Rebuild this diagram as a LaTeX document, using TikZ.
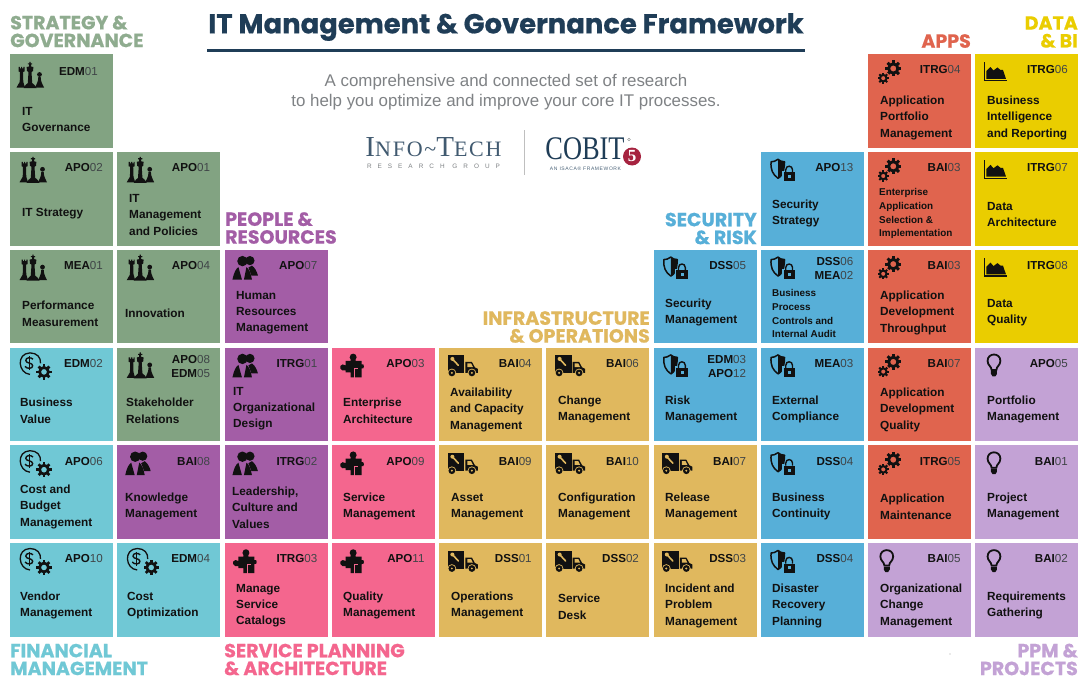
\documentclass[tikz,border=0pt]{standalone}
\usepackage{fontspec}
\setmainfont{Liberation Sans}
\newfontfamily\codef{Liberation Sans}
\newfontfamily\catf{Poppins}[BoldFeatures={FakeBold=0.6}]
\newfontfamily\serf{Liberation Serif}
\newfontfamily\serfs{Liberation Serif}[LetterSpace=8]
\newfontfamily\ressp{Liberation Sans}[LetterSpace=94]
\newfontfamily\isacf{Liberation Sans}[LetterSpace=12]
\definecolor{cgreen}{HTML}{82A382}
\definecolor{cteal}{HTML}{70C8D5}
\definecolor{cpurple}{HTML}{A35DA6}
\definecolor{cpink}{HTML}{F4668E}
\definecolor{cgold}{HTML}{E0B85E}
\definecolor{cblue}{HTML}{57AFD8}
\definecolor{cred}{HTML}{E0644E}
\definecolor{cyellow}{HTML}{EACD00}
\definecolor{clilac}{HTML}{C3A2D5}
\definecolor{navy}{HTML}{1F3D57}
\definecolor{numgray}{HTML}{3F4447}
\definecolor{subgray}{HTML}{7F8285}
\definecolor{ink}{HTML}{111111}
\definecolor{cobitred}{HTML}{A6233F}
\colorlet{tilec}{cgreen}
\newcommand{\cd}[2]{{\bfseries #1}{\color{numgray}#2}}
\newcommand{\geargl}[3]{%
  \begin{scope}[shift={(#1,#2)}]
    \fill[tilec] (0,0) circle ({#3+1.2});
    \draw[ink,line width={0.36*#3}] (0,0) circle ({0.58*#3});
    \foreach \a in {0,45,...,315}{\draw[ink,line width={0.36*#3}] (\a:{0.65*#3}) -- (\a:{#3});}
  \end{scope}}
\def\offchess{23}\def\offpeople{20.5}\def\offpuzzle{20}\def\offtruck{24}
\def\offshield{22}\def\offgears{20.5}\def\offdollar{25}\def\offchart{20.5}\def\offbulb{19}
\tikzset{
  x=1pt,y=-1pt,
  tilebox/.style={draw=none,inner sep=0pt,anchor=north west,minimum width=103pt,minimum height=93.5pt},
  tilelabel/.style={anchor=west,align=left,inner sep=0pt,yshift=-0.7pt,text=ink,font=\codef\bfseries\fontsize{11.8}{16.4}\selectfont},
  smallabel/.style={font=\codef\bfseries\fontsize{9.9}{13.7}\selectfont},
  tilecode/.style={anchor=east,align=right,inner sep=0pt,text=ink,font=\codef\fontsize{11.6}{14.4}\selectfont},
  cattitle/.style={inner sep=0pt,font=\catf\bfseries\fontsize{19}{17.8}\selectfont},
  iconchess/.pic={
    \fill[ink] (-6.5,13) .. controls (-6,10) and (-3,10) .. (-2.2,8) -- (-1.5,-3) -- (-3,-4) -- (-3.4,-8) -- (-1,-8.5) -- (-1,-10.5) -- (-2.2,-10.5) -- (-2.2,-11.6) -- (-0.7,-11.6) -- (-0.7,-13) -- (0.7,-13) -- (0.7,-11.6) -- (2.2,-11.6) -- (2.2,-10.5) -- (1,-10.5) -- (1,-8.5) -- (3.4,-8) -- (3,-4) -- (1.5,-3) -- (2.2,8) .. controls (3,10) and (6.5,10) .. (6.5,13) -- cycle;
    \fill[ink] (-13.5,12.5) .. controls (-13,10) and (-10.5,9) .. (-10.3,7) -- (-10,-3) -- (-11.5,-3.5) -- (-11.5,-8) -- (-10.2,-8) -- (-10.2,-6.5) -- (-9,-6.5) -- (-9,-8) -- (-7.8,-8) -- (-7.8,-6.5) -- (-6.6,-6.5) -- (-6.6,-8) -- (-5.5,-8) -- (-5.5,-3.5) -- (-7,-3) -- (-6.7,7) .. controls (-6.5,9) and (-5,10) .. (-5,12.5) -- cycle;
    \fill[ink] (9.5,-0.5) circle (2.4);
    \fill[ink] (5,12.5) .. controls (5.5,10) and (8,9) .. (8.3,2) -- (10.7,2) .. controls (11,9) and (13.5,10) .. (14,12.5) -- cycle;
  },
  iconpeople/.pic={
    \fill[ink] (5,-7) circle (4.6);
    \fill[ink] (-2.5,-6.5) circle (5.2);
    \fill[ink] (7,-2) .. controls (10,0) and (12,4) .. (13,8) -- (6.5,8) -- (3.5,0) -- cycle;
    \fill[ink] (-12.5,12) .. controls (-11,5) and (-9,1) .. (-6.5,-0.5) -- (-3,12) -- cycle;
    \fill[ink] (-1,12) -- (1.5,-0.5) .. controls (4,1) and (6,6) .. (7,12) -- cycle;
  },
  iconpuzzle/.pic={
    \fill[ink] (-6,-4.5) -- (-1,-4.5) -- (-1,-6) -- (-2,-8) .. controls (-2,-13) and (5,-13) .. (5,-8) -- (4,-6) -- (4,-4.5) -- (10,-4.5) -- (10,-1) .. controls (13,-3) and (13,5) .. (10,3) -- (10,12) -- (-1,12) -- (-1,7) -- (-6,7) -- (-6,5) .. controls (-11,7) and (-14,0) .. (-9,-1) -- (-6,0) -- cycle;
    \draw[tilec,line width=1.1] (3,12.5) -- (3,3.5) -- (6.5,3.5);
  },
  icontruck/.pic={
    \fill[ink] (-15,-10.5) rectangle (1.5,7.5);
    \draw[tilec,line width=1.6,line cap=round] (-10.5,-6.5) -- (-4.5,0);
    \fill[tilec] (-10.5,-6.5) circle (2);
    \fill[ink] (2.5,-3.5) -- (9,-3.5) -- (12,2) -- (15,3.5) -- (15,7.5) -- (2.5,7.5) -- cycle;
    \fill[tilec] (4.5,-2) -- (8.2,-2) -- (10,1.6) -- (4.5,1.6) -- cycle;
    \foreach \wx in {-11,9}{
      \fill[tilec] (\wx,7.5) circle (4.3);
      \fill[ink] (\wx,7.5) circle (3.4);
      \fill[tilec] (\wx,7.5) circle (1.1);}
  },
  iconshield/.pic={
    \draw[ink,line width=1.5,line join=round] (-4.5,-10.5) .. controls (-7,-8.5) and (-9.5,-8) .. (-11.5,-8) .. controls (-12,0) and (-10,4.5) .. (-4.5,8.5) .. controls (-1,6.5) and (1.5,3.5) .. (2,-8) .. controls (-1,-8) and (-3,-9) .. (-4.5,-10.5) -- cycle;
    \fill[ink] (-4.5,-10.5) .. controls (-3,-9) and (-1,-8) .. (2,-8) .. controls (1.5,3.5) and (-1,6.5) .. (-4.5,8.5) -- cycle;
    \fill[tilec] (-0.6,1) rectangle (14,13);
    \draw[ink,line width=1.4] (3.2,2.5) -- (3.2,0) .. controls (3.2,-4.8) and (10,-4.8) .. (10,0) -- (10,2.5);
    \fill[ink] (1,2.5) rectangle (12.4,11.5);
    \fill[tilec] (5.2,5.3) rectangle (8.2,8.3);
  },
  icongears/.pic={
    \geargl{5}{-3.5}{8}
    \geargl{-5}{6.2}{5.6}
  },
  icondollar/.pic={
    \draw[ink,line width=1.3] (-5,9) .. controls (-17,8) and (-19,-12) .. (-5,-12.5) .. controls (2,-12.5) and (6,-8) .. (5.5,-2);
    \draw[ink,line width=1.4] (-2,-6.2) .. controls (-4,-8.5) and (-9.5,-8) .. (-9.2,-4.8) .. controls (-9,-1.8) and (-2.5,-3) .. (-2.3,0.3) .. controls (-2.2,3.5) and (-8,3.8) .. (-10,1);
    \draw[ink,line width=1] (-6,-9.2) -- (-6,5);
    \geargl{9}{6.5}{7.6}
  },
  iconchart/.pic={
    \draw[ink,line width=1.3] (-11,-9.5) -- (-11,8.5) -- (11.5,8.5);
    \fill[ink] (-9,6.8) -- (-9,-1) -- (-5,-5) -- (-2,-1.5) -- (2,-4.5) -- (5,-2) -- (7.5,-2) -- (10.5,6.8) -- cycle;
  },
  iconbulb/.pic={
    \draw[ink,line width=1.8] (-2.4,4.5) .. controls (-2.4,1) and (-6.4,0) .. (-6.4,-4.5) .. controls (-6.4,-13) and (6.4,-13) .. (6.4,-4.5) .. controls (6.4,0) and (2.4,1) .. (2.4,4.5) -- cycle;
    \fill[ink] (-3,5.5) -- (3,5.5) -- (3,8.5) -- (1.4,11) -- (-1.4,11) -- (-3,8.5) -- cycle;
  },
}
\def\parseopt#1/#2/#3/#4\relax{\def\oia{#1}\def\oib{#2}\def\oic{#3}\def\oid{#4}}
% [iconDx/iconDy/codeDx/codeDy]{name}{col}{row}{colour}{icon}{codes}{x,y of label}{label}
\newcommand{\tile}[9][0/0/0/0]{%
  \parseopt#1\relax
  \colorlet{tilec}{#5}%
  \pgfmathsetmacro\tx{10+107.22*(#3-1)}%
  \pgfmathsetmacro\ty{54+97.8*(#4-1)}%
  \pgfmathsetmacro\ix{\tx+\csname off#6\endcsname+\oia}%
  \pgfmathsetmacro\iy{\ty+18+\oib}%
  \pgfmathsetmacro\cx{\tx+93+\oic}%
  \pgfmathsetmacro\cy{\ty+16+\oid}%
  \node[tilebox,fill=#5] (#2) at (\tx,\ty) {};
  \pic at (\ix,\iy) {icon#6};
  \node[tilecode] (#2-code) at (\cx,\cy) {#7};
  \node[tilelabel,\lblstyle] (#2-label) at (#8) {#9};
  \def\lblstyle{}%
}
\def\lblstyle{}
\begin{document}
\begin{tikzpicture}
\useasboundingbox (0,0) rectangle (1079,677);
\fill[white] (0,0) rectangle (1079,677);

% title
\node[inner sep=0pt,text=navy,font=\catf\bfseries\fontsize{27.4}{30}\selectfont] (title) at (506,27) {IT Management \& Governance Framework};
\coordinate (ruleL) at (207,51);
\coordinate (ruleR) at (805,51);
\draw[navy,line width=3] (ruleL) -- (ruleR);
\node[align=center,inner sep=0pt,text=subgray,font=\fontsize{16.9}{20}\selectfont] (subtitle) at (506,92.5) {A comprehensive and connected set of research\\to help you optimize and improve your core IT processes.};

% logos
\node[inner sep=0pt,text=navy!85!white,font=\serfs] (infotech) at (433.5,147.5) {\fontsize{29}{25}\selectfont I\fontsize{22}{25}\selectfont NFO\textasciitilde\fontsize{29}{25}\selectfont T\fontsize{22}{25}\selectfont ECH};
\node[inner sep=0pt,text=subgray,font=\ressp\fontsize{6.4}{8}\selectfont] (rgroup) at (433.5,166) {RESEARCH GROUP};
\coordinate (divT) at (524,130);
\coordinate (divB) at (524,175);
\draw[gray!50,line width=0.8] (divT) -- (divB);
\node[inner sep=0pt,xscale=0.8,text=navy,font=\serf\fontsize{33}{33}\selectfont] (cobit) at (585,149) {COBIT};
\draw[subgray,line width=0.4] (629,139.5) circle (1.4);
\node[circle,fill=cobitred,minimum size=18pt,inner sep=0pt,text=white,font=\serf\bfseries\fontsize{17}{17}\selectfont] (five) at (632,156.5) {5};
\node[inner sep=0pt,text=navy!80!white,font=\isacf\fontsize{5}{6}\selectfont] (isaca) at (585.5,169) {AN ISACA® FRAMEWORK};

% categories
\node[cattitle,anchor=west,align=left,text=cgreen!90!white] (catstrategy) at (10,31.5) {STRATEGY \&\\GOVERNANCE};
\node[cattitle,anchor=west,align=left,text=cpurple] (catpeople) at (225,228) {PEOPLE \&\\RESOURCES};
\node[cattitle,anchor=east,align=right,text=cblue] (catsec) at (757,228.5) {SECURITY\\\& RISK};
\node[cattitle,anchor=east,align=right,text=cgold] (catinfra) at (650,327) {INFRASTRUCTURE\\\& OPERATIONS};
\node[cattitle,anchor=east,align=right,text=cred] (catapps) at (971,41) {APPS};
\node[cattitle,anchor=east,align=right,text=cyellow] (catdata) at (1078,32) {DATA\\\& BI};
\node[cattitle,anchor=west,align=left,text=cteal] (catfin) at (10,659.5) {FINANCIAL\\MANAGEMENT};
\node[cattitle,anchor=west,align=left,text=cpink] (catserv) at (224,659.5) {SERVICE PLANNING\\\& ARCHITECTURE};
\node[cattitle,anchor=east,align=right,text=clilac] (catppm) at (1078,659.5) {PPM \&\\PROJECTS};
% small speck below the grid
\coordinate (speck) at (950,654);
\fill[gray!70] (speck) circle (0.6);

% row 1
\tile[-3/3/-5/2]{edm01}{1}{1}{cgreen}{chess}{\cd{EDM}{01}}{22,118.5}{IT\\Governance}
\tile{itrg04}{9}{1}{cred}{gears}{\cd{ITRG}{04}}{880,117}{Application\\Portfolio\\Management}
\tile{itrg06}{10}{1}{cyellow}{chart}{\cd{ITRG}{06}}{987,117}{Business\\Intelligence\\and Reporting}
% row 2
\tile{apo02}{1}{2}{cgreen}{chess}{\cd{APO}{02}}{22,213}{IT Strategy}
\tile{apo01}{2}{2}{cgreen}{chess}{\cd{APO}{01}}{129,214}{IT\\Management\\and Policies}
\tile{apo13}{8}{2}{cblue}{shield}{\cd{APO}{13}}{772,213}{Security\\Strategy}
\def\lblstyle{smallabel}
\tile{bai03a}{9}{2}{cred}{gears}{\cd{BAI}{03}}{879,213}{Enterprise\\Application\\Selection \&\\Implementation}
\tile{itrg07}{10}{2}{cyellow}{chart}{\cd{ITRG}{07}}{987,214}{Data\\Architecture}
% row 3
\tile{mea01}{1}{3}{cgreen}{chess}{\cd{MEA}{01}}{22,313}{Performance\\Measurement}
\tile{apo04}{2}{3}{cgreen}{chess}{\cd{APO}{04}}{125,313}{Innovation}
\tile{apo07}{3}{3}{cpurple}{people}{\cd{APO}{07}}{236,312}{Human\\Resources\\Management}
\tile{dss05}{7}{3}{cblue}{shield}{\cd{DSS}{05}}{665,312}{Security\\Management}
\def\lblstyle{smallabel}
\tile[0/0/0/3]{dss06}{8}{3}{cblue}{shield}{\cd{DSS}{06}\\\cd{MEA}{02}}{772,313}{Business\\Process\\Controls and\\Internal Audit}
\tile{bai03b}{9}{3}{cred}{gears}{\cd{BAI}{03}}{880,312}{Application\\Development\\Throughput}
\tile{itrg08}{10}{3}{cyellow}{chart}{\cd{ITRG}{08}}{987,312}{Data\\Quality}
% row 4
\tile{edm02}{1}{4}{cteal}{dollar}{\cd{EDM}{02}}{20,410}{Business\\Value}
\tile[0/0/0/3]{apo08}{2}{4}{cgreen}{chess}{\cd{APO}{08}\\\cd{EDM}{05}}{126,410}{Stakeholder\\Relations}
\tile{itrg01}{3}{4}{cpurple}{people}{\cd{ITRG}{01}}{233,408}{IT\\Organizational\\Design}
\tile{apo03}{4}{4}{cpink}{puzzle}{\cd{APO}{03}}{343,410}{Enterprise\\Architecture}
\tile{bai04}{5}{4}{cgold}{truck}{\cd{BAI}{04}}{450,409}{Availability\\and Capacity\\Management}
\tile{bai06}{6}{4}{cgold}{truck}{\cd{BAI}{06}}{558,409}{Change\\Management}
\tile[0/0/0/3]{edm03}{7}{4}{cblue}{shield}{\cd{EDM}{03}\\\cd{APO}{12}}{665,409}{Risk\\Management}
\tile{mea03}{8}{4}{cblue}{shield}{\cd{MEA}{03}}{772,409}{External\\Compliance}
\tile{bai07a}{9}{4}{cred}{gears}{\cd{BAI}{07}}{880,409}{Application\\Development\\Quality}
\tile{apo05}{10}{4}{clilac}{bulb}{\cd{APO}{05}}{987,409}{Portfolio\\Management}
% row 5
\tile{apo06}{1}{5}{cteal}{dollar}{\cd{APO}{06}}{20,506}{Cost and\\Budget\\Management}
\tile{bai08}{2}{5}{cpurple}{people}{\cd{BAI}{08}}{125,506}{Knowledge\\Management}
\tile{itrg02}{3}{5}{cpurple}{people}{\cd{ITRG}{02}}{232,507}{Leadership,\\Culture and\\Values}
\tile{apo09}{4}{5}{cpink}{puzzle}{\cd{APO}{09}}{343,506}{Service\\Management}
\tile{bai09}{5}{5}{cgold}{truck}{\cd{BAI}{09}}{451,506}{Asset\\Management}
\tile{bai10}{6}{5}{cgold}{truck}{\cd{BAI}{10}}{558,506}{Configuration\\Management}
\tile{bai07b}{7}{5}{cgold}{truck}{\cd{BAI}{07}}{665,506}{Release\\Management}
\tile{dss04a}{8}{5}{cblue}{shield}{\cd{DSS}{04}}{772,506}{Business\\Continuity}
\tile{itrg05}{9}{5}{cred}{gears}{\cd{ITRG}{05}}{880,506}{Application\\Maintenance}
\tile{bai01}{10}{5}{clilac}{bulb}{\cd{BAI}{01}}{987,506}{Project\\Management}
% row 6
\tile{apo10}{1}{6}{cteal}{dollar}{\cd{APO}{10}}{20,605}{Vendor\\Management}
\tile{edm04}{2}{6}{cteal}{dollar}{\cd{EDM}{04}}{127,605}{Cost\\Optimization}
\tile{itrg03}{3}{6}{cpink}{puzzle}{\cd{ITRG}{03}}{236,605}{Manage\\Service\\Catalogs}
\tile{apo11}{4}{6}{cpink}{puzzle}{\cd{APO}{11}}{343,605}{Quality\\Management}
\tile{dss01}{5}{6}{cgold}{truck}{\cd{DSS}{01}}{451,605}{Operations\\Management}
\tile{dss02}{6}{6}{cgold}{truck}{\cd{DSS}{02}}{558,606}{Service\\Desk}
\tile{dss03}{7}{6}{cgold}{truck}{\cd{DSS}{03}}{665,605}{Incident and\\Problem\\Management}
\tile{dss04b}{8}{6}{cblue}{shield}{\cd{DSS}{04}}{772,605}{Disaster\\Recovery\\Planning}
\tile{bai05}{9}{6}{clilac}{bulb}{\cd{BAI}{05}}{880,605}{Organizational\\Change\\Management}
\tile{bai02}{10}{6}{clilac}{bulb}{\cd{BAI}{02}}{987,605}{Requirements\\Gathering}
\end{tikzpicture}
\end{document}
